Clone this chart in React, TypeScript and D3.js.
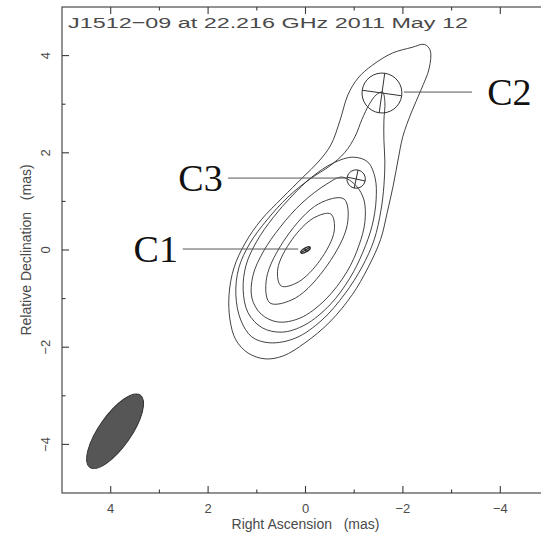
import React from 'react';
import * as d3 from 'd3';

const title = 'J1512\u221209 at 22.216 GHz 2011 May 12';
const xLabel = 'Right Ascension   (mas)';
const yLabel = 'Relative Declination   (mas)';
const majorTicks = [4, 2, 0, -2, -4];
const minorTicks = [3, 1, -1, -3];

// contour levels, outermost first, as [RA, Dec] in mas
const level1: [number, number][] = [
  [-2.44, 4.23], [-2.56, 4.11], [-2.54, 3.74], [-2.37, 3.29], [-2.17, 2.82], [-2.0, 2.34],
  [-1.9, 1.85], [-1.8, 1.32], [-1.68, 0.78], [-1.54, 0.21], [-1.28, -0.37], [-0.96, -0.92],
  [-0.5, -1.48], [0.01, -1.91], [0.46, -2.18], [0.83, -2.24], [1.18, -2.12], [1.43, -1.85],
  [1.55, -1.44], [1.57, -0.92], [1.47, -0.37], [1.24, 0.14], [0.91, 0.62], [0.48, 1.07],
  [0.05, 1.5], [-0.26, 1.81], [-0.52, 2.16], [-0.71, 2.67], [-0.87, 3.19], [-1.08, 3.54],
  [-1.37, 3.8], [-1.78, 4.05], [-2.19, 4.17],
];
const level2: [number, number][] = [
  [-1.58, 3.25], [-1.63, 3.04], [-1.61, 2.67], [-1.61, 2.26], [-1.63, 1.81], [-1.61, 1.32],
  [-1.55, 0.82], [-1.41, 0.21], [-1.16, -0.35], [-0.81, -0.9], [-0.34, -1.44], [0.2, -1.81],
  [0.73, -1.91], [1.1, -1.79], [1.33, -1.44], [1.43, -0.92], [1.37, -0.37], [1.14, 0.14],
  [0.79, 0.62], [0.36, 1.09], [-0.09, 1.46], [-0.5, 1.73], [-0.81, 2.01], [-1.02, 2.34],
  [-1.16, 2.69], [-1.31, 3.0], [-1.45, 3.19],
];
const level3: [number, number][] = [
  [-0.98, 1.91], [-1.28, 1.81], [-1.43, 1.48], [-1.45, 1.03], [-1.37, 0.51], [-1.18, -0.04],
  [-0.91, -0.58], [-0.5, -1.13], [0.01, -1.54], [0.48, -1.69], [0.89, -1.6], [1.18, -1.29],
  [1.28, -0.82], [1.22, -0.31], [1.0, 0.18], [0.67, 0.66], [0.28, 1.11], [-0.13, 1.5],
  [-0.57, 1.79],
];
const level4: [number, number][] = [
  [-0.44, 1.36], [-0.75, 1.5], [-1.04, 1.32], [-1.2, 1.03], [-1.22, 0.58], [-1.1, 0.1],
  [-0.85, -0.45], [-0.4, -1.03], [0.11, -1.4], [0.57, -1.48], [0.91, -1.32], [1.1, -0.99],
  [1.08, -0.53], [0.87, -0.04], [0.52, 0.47], [0.07, 0.97],
];
const level5: [number, number][] = [
  [-0.79, 1.05], [-0.86, 0.53], [-0.45, -0.31], [0.21, -0.99], [0.73, -1.09], [0.8, -0.58],
  [0.39, 0.27], [-0.27, 0.95],
];
const level6: [number, number][] = [
  [-0.52, 0.74], [-0.59, 0.39], [-0.3, -0.21], [0.15, -0.66], [0.5, -0.74], [0.57, -0.39],
  [0.28, 0.21], [-0.17, 0.66],
];
const contours = [level1, level2, level3, level4, level5, level6];

// model components (position and FWHM in mas, PA in degrees)
const compNames = ['C1', 'C2', 'C3'];
const compRA = [0, -1.57, -1.04];
const compDec = [0, 3.23, 1.46];
const compMajor = [0.22, 0.82, 0.38];
const compMinor = [0.08, 0.82, 0.38];
const compPA = [-59, -8, -12];

// restoring beam
const beamRA = 3.91;
const beamDec = -3.73;
const beamMajor = 1.81;
const beamMinor = 0.66;
const beamPA = -35;

// annotation leaders: RA start, RA end, Dec, and label RA
const leaderFrom = [2.52, -2.02, 1.59];
const leaderTo = [0.15, -3.42, -0.85];
const leaderDec = [0.02, 3.25, 1.48];
const labelRA = [2.62, -3.73, 1.7];
const labelAnchor = ['end', 'start', 'end'];

const App = () => {
  const width = 541,
    height = 534;

  const x = d3.scaleLinear().domain([5, -5]).range([62, 549]);
  const y = d3.scaleLinear().domain([-5, 5]).range([493, 7]);
  const kx = Math.abs(x(1) - x(0));
  const ky = Math.abs(y(1) - y(0));

  const line = d3.line<[number, number]>()
    .x(d => x(d[0]))
    .y(d => y(d[1]))
    .curve(d3.curveCatmullRomClosed.alpha(0.5));

  const axisColor = '#3a3a3a';
  const textColor = '#4a4a4a';
  const sans = '"Liberation Sans", Arial, sans-serif';
  const top = y(5), bottom = y(-5);
  const left = x(5), right = x(-5);

  const tick = (len: number) => (t: number) => (
    <g key={`t${t}`}>
      <line x1={x(t)} x2={x(t)} y1={bottom} y2={bottom - len} />
      <line x1={x(t)} x2={x(t)} y1={top} y2={top + len} />
      <line y1={y(t)} y2={y(t)} x1={left} x2={left + len} />
      <line y1={y(t)} y2={y(t)} x1={right} x2={right - len} />
    </g>
  );

  const fmt = (t: number) => (t < 0 ? `\u2212${-t}` : `${t}`);

  return (
    <svg width={width} height={height} style={{ position: 'absolute', left: 0, top: 0 }}>
      <rect width={width} height={height} fill="#fff" />

      {/* frame and ticks */}
      <g stroke={axisColor} strokeWidth={1.1} fill="none">
        <rect x={left} y={top} width={right - left} height={bottom - top} />
        {majorTicks.map(tick(7))}
        {minorTicks.map(tick(3.5))}
      </g>

      <g fill={textColor} fontFamily={sans} fontSize={13} textAnchor="middle">
        {majorTicks.map(t => (
          <text key={`x${t}`} x={x(t)} y={513}>{fmt(t)}</text>
        ))}
        {majorTicks.map(t => (
          <text key={`y${t}`} transform={`translate(50,${y(t)}) rotate(-90)`}>{fmt(t)}</text>
        ))}
        <text x={x(0)} y={529} fontSize={14} style={{ whiteSpace: 'pre' }}>{xLabel}</text>
        <text transform={`translate(31,${y(0)}) rotate(-90)`} fontSize={14} style={{ whiteSpace: 'pre' }}>{yLabel}</text>
      </g>

      <text x={68} y={28} fill={textColor} fontFamily={sans} fontSize={15.5}
        textLength={400} lengthAdjust="spacingAndGlyphs">{title}</text>

      {/* beam */}
      <ellipse
        cx={0} cy={0} rx={(beamMajor / 2) * kx} ry={(beamMinor / 2) * ky}
        transform={`translate(${x(beamRA)},${y(beamDec)}) rotate(${-(90 + beamPA)})`}
        fill="#565656" stroke="#333" strokeWidth={1}
      />

      {/* contours */}
      <g fill="none" stroke="#2e2e2e" strokeWidth={0.9}>
        {contours.map((c, i) => (
          <path key={i} d={line(c) || ''} />
        ))}
      </g>

      {/* model components */}
      <g fill="none" stroke="#2a2a2a">
        {compNames.map((n, i) => {
          const rx = (compMajor[i] / 2) * kx;
          const ry = (compMinor[i] / 2) * ky;
          return (
            <g key={n} strokeWidth={i === 0 ? 1.4 : 0.9}
              transform={`translate(${x(compRA[i])},${y(compDec[i])}) rotate(${-(90 + compPA[i])})`}>
              <ellipse rx={rx} ry={ry} />
              <line x1={-rx} x2={rx} y1={0} y2={0} />
              <line x1={0} x2={0} y1={-ry} y2={ry} />
            </g>
          );
        })}
      </g>

      {/* labels */}
      <g>
        {compNames.map((n, i) => (
          <g key={n}>
            <line x1={x(leaderFrom[i])} x2={x(leaderTo[i])} y1={y(leaderDec[i])} y2={y(leaderDec[i])}
              stroke="#555" strokeWidth={1} />
            <text x={x(labelRA[i])} y={y(leaderDec[i])} dy="0.33em" textAnchor={labelAnchor[i]}
              fontFamily='"Liberation Serif", "Times New Roman", serif' fontSize={38} fill="#111">{n}</text>
          </g>
        ))}
      </g>
    </svg>
  );
};

export default App;
